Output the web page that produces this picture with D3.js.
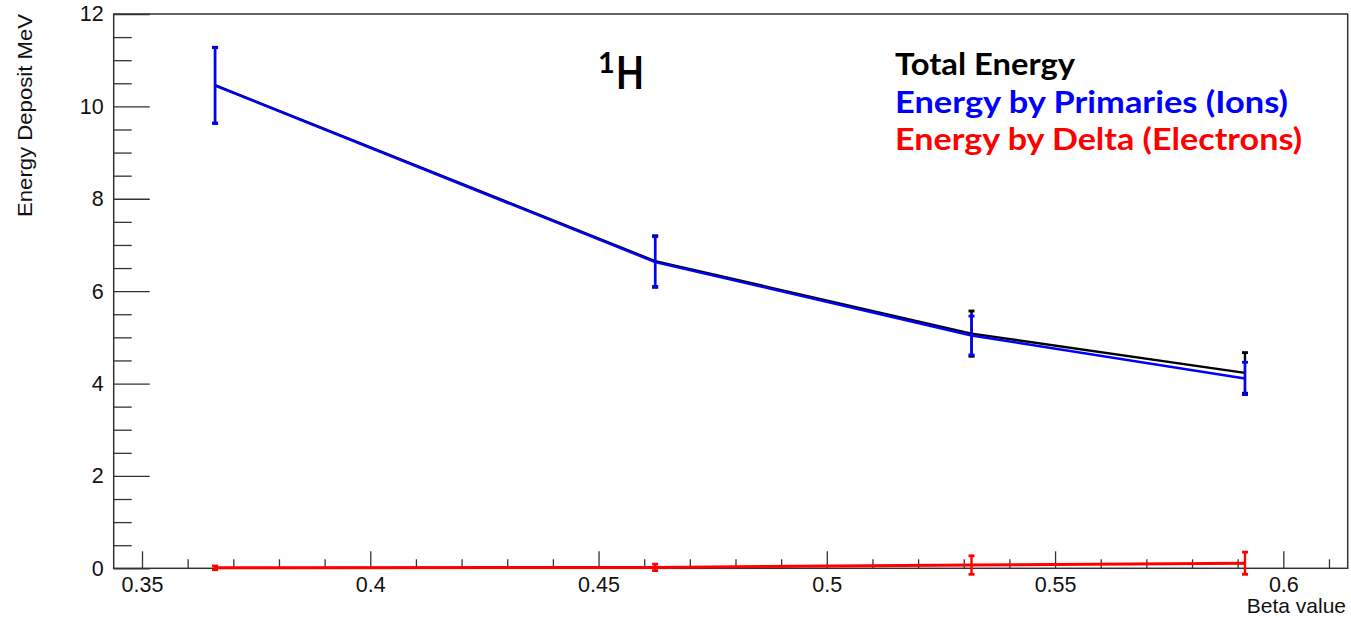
<!DOCTYPE html>
<html>
<head>
<meta charset="utf-8">
<script src="https://cdn.jsdelivr.net/npm/d3@7"></script>
<style>
  html, body { margin: 0; padding: 0; background: #fff; }
  svg { display: block; }
  .axis text { font-family: "Liberation Sans", Arial, Helvetica, sans-serif; fill: #111; }
  .axis path, .axis line { stroke: #333; }
</style>
</head>
<body>
<svg id="chart" width="1351" height="618"></svg>
<script>
// ---- data ----
const beta = [0.366, 0.4624, 0.5317, 0.5916];
const totalEnergy = [10.46, 6.65, 5.08, 4.23];
const totalErr = [0.82, 0.55, 0.49, 0.44];
const primaryEnergy = [10.45, 6.63, 5.04, 4.11];
const primaryErr = [0.82, 0.55, 0.42, 0.35];
const deltaEnergy = [0.01, 0.02, 0.07, 0.11];
const deltaErr = [0.04, 0.07, 0.20, 0.24];
const xTicks = [0.35, 0.4, 0.45, 0.5, 0.55, 0.6];
const yTicks = [0, 2, 4, 6, 8, 10, 12];
const legendLabels = ["Total Energy", "Energy by Primaries (Ions)", "Energy by Delta (Electrons)"];
const seriesColors = ["#000000", "#0000ff", "#ff0000"];

// ---- layout ----
const svg = d3.select("#chart");
const L = 113.7, R = 1347.7, T = 14, B = 568.3;
const x = d3.scaleLinear().domain([0.3438, 0.6141]).range([L, R]);
const y = d3.scaleLinear().domain([0, 12]).range([B, T]);

// minor ticks
const xMinor = d3.range(35, 62).map(v => v / 100).filter(v => xTicks.every(t => Math.abs(t - v) > 1e-6));
const yMinor = d3.range(1, 24).map(v => v / 2).filter(v => v % 2 !== 0);

svg.append("g").attr("class", "axis")
  .attr("transform", `translate(0,${B})`)
  .call(d3.axisBottom(x).tickValues(xMinor).tickSizeInner(-9).tickSizeOuter(0).tickFormat(""))
  .call(g => g.select(".domain").remove())
  .selectAll("line").attr("stroke-width", 1.3);

svg.append("g").attr("class", "axis")
  .attr("transform", `translate(0,${B})`)
  .call(d3.axisBottom(x).tickValues(xTicks).tickSizeInner(-17).tickSizeOuter(0).tickPadding(8).tickFormat(d3.format("~g")))
  .call(g => g.select(".domain").remove())
  .call(g => g.selectAll("line").attr("stroke-width", 1.3))
  .call(g => g.selectAll("text").attr("font-size", 21.5));

svg.append("g").attr("class", "axis")
  .attr("transform", `translate(${L},0)`)
  .call(d3.axisLeft(y).tickValues(yMinor).tickSizeInner(-18).tickSizeOuter(0).tickFormat(""))
  .call(g => g.select(".domain").remove())
  .selectAll("line").attr("stroke-width", 1.3);

svg.append("g").attr("class", "axis")
  .attr("transform", `translate(${L},0)`)
  .call(d3.axisLeft(y).tickValues(yTicks).tickSizeInner(-36).tickSizeOuter(0).tickPadding(10).tickFormat(d3.format("d")))
  .call(g => g.select(".domain").remove())
  .call(g => g.selectAll("line").attr("stroke-width", 1.3))
  .call(g => g.selectAll("text").attr("font-size", 21.5));

// frame
svg.append("rect")
  .attr("x", L).attr("y", T).attr("width", R - L).attr("height", B - T)
  .attr("fill", "none").attr("stroke", "#333").attr("stroke-width", 1.5);

// axis titles
svg.append("text")
  .attr("transform", `translate(32,${T}) rotate(-90)`)
  .attr("text-anchor", "end")
  .attr("font-family", "Liberation Sans, Arial, sans-serif")
  .attr("font-size", 21).attr("fill", "#111")
  .attr("textLength", 203).attr("lengthAdjust", "spacingAndGlyphs")
  .text("Energy Deposit MeV");

svg.append("text")
  .attr("x", 1346).attr("y", 613)
  .attr("text-anchor", "end")
  .attr("font-family", "Liberation Sans, Arial, sans-serif")
  .attr("font-size", 21).attr("fill", "#111")
  .text("Beta value");

// series
const series = [
  { vals: totalEnergy, errs: totalErr, color: seriesColors[0], w: 2.4 },
  { vals: primaryEnergy, errs: primaryErr, color: seriesColors[1], w: 2.4 },
  { vals: deltaEnergy, errs: deltaErr, color: seriesColors[2], w: 3 }
];
const line = d3.line().x(d => x(d.b)).y(d => y(d.v));
series.forEach(s => {
  const pts = beta.map((b, i) => ({ b, v: s.vals[i], e: s.errs[i] }));
  const g = svg.append("g");
  g.append("path").datum(pts)
    .attr("d", line).attr("fill", "none")
    .attr("stroke", s.color).attr("stroke-width", s.w);
  g.selectAll("line.err").data(pts).join("line")
    .attr("x1", d => x(d.b)).attr("x2", d => x(d.b))
    .attr("y1", d => y(d.v - d.e)).attr("y2", d => y(d.v + d.e))
    .attr("stroke", s.color).attr("stroke-width", 2.4);
  ["lo", "hi"].forEach(k => {
    g.selectAll("line.cap" + k).data(pts).join("line")
      .attr("x1", d => x(d.b) - 3).attr("x2", d => x(d.b) + 3)
      .attr("y1", d => y(k === "lo" ? d.v - d.e : d.v + d.e))
      .attr("y2", d => y(k === "lo" ? d.v - d.e : d.v + d.e))
      .attr("stroke", s.color).attr("stroke-width", 2.8);
  });
});

// title 1H
svg.append("text").attr("x", 598).attr("y", 73)
  .attr("font-family", "Lato, 'Open Sans', sans-serif").attr("font-weight", "bold")
  .attr("font-size", 29).attr("fill", "#000").text("1");
svg.append("text").attr("x", 616).attr("y", 89)
  .attr("font-family", "Lato, 'Open Sans', sans-serif").attr("font-weight", "bold")
  .attr("font-size", 46).attr("fill", "#000")
  .attr("textLength", 28).attr("lengthAdjust", "spacingAndGlyphs").text("H");

// legend text
const legendBase = [75, 112.5, 150];
const legendWidths = [180, 393, 407];
legendLabels.forEach((lbl, i) => {
  svg.append("text")
    .attr("x", 895).attr("y", legendBase[i])
    .attr("font-family", "Lato, 'Open Sans', sans-serif").attr("font-weight", "bold")
    .attr("font-size", 30).attr("fill", seriesColors[i])
    .attr("textLength", legendWidths[i]).attr("lengthAdjust", "spacingAndGlyphs")
    .text(lbl);
});
</script>
</body>
</html>
